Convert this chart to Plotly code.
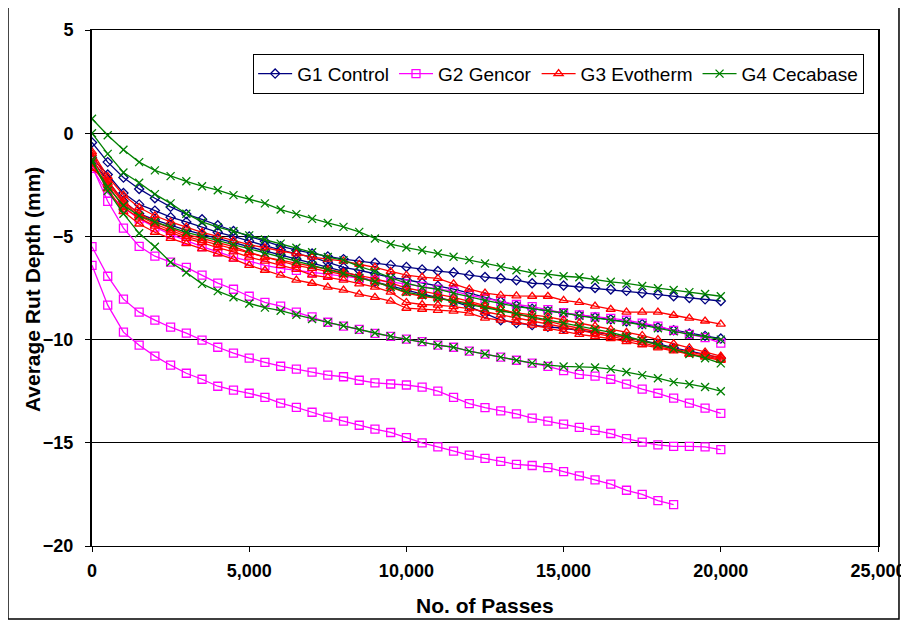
import plotly.graph_objects as go

# x values: number of passes (every 500)
passes = [0, 500, 1000, 1500, 2000, 2500, 3000, 3500, 4000, 4500,
          5000, 5500, 6000, 6500, 7000, 7500, 8000, 8500, 9000, 9500,
          10000, 10500, 11000, 11500, 12000, 12500, 13000, 13500, 14000, 14500,
          15000, 15500, 16000, 16500, 17000, 17500, 18000, 18500, 19000, 19500,
          20000]

# G1 Control
g1_a = [-0.45, -1.4, -2.15, -2.7, -3.15, -3.57, -3.92, -4.17, -4.46, -4.74,
        -5.0, -5.23, -5.47, -5.67, -5.83, -5.97, -6.1, -6.2, -6.28, -6.38,
        -6.48, -6.6, -6.68, -6.75, -6.88, -6.97, -7.03, -7.12, -7.27, -7.3,
        -7.38, -7.45, -7.5, -7.57, -7.64, -7.74, -7.82, -7.9, -7.98, -8.05,
        -8.13]
g1_b = [-1.2, -2.0, -2.9, -3.45, -3.75, -4.07, -4.3, -4.55, -4.8, -5.0,
        -5.23, -5.45, -5.65, -5.85, -6.0, -6.25, -6.5, -6.64, -6.8, -6.98,
        -7.1, -7.25, -7.4, -7.55, -7.75, -7.95, -8.15, -8.35, -8.5, -8.62,
        -8.72, -8.82, -8.92, -9.02, -9.12, -9.25, -9.4, -9.55, -9.7, -9.82,
        -9.95]
g1_c = [-1.3, -2.3, -3.3, -3.9, -4.2, -4.45, -4.7, -4.9, -5.1, -5.3,
        -5.5, -5.7, -5.9, -6.1, -6.3, -6.5, -6.7, -6.95, -7.2, -7.4,
        -7.6, -7.8, -7.95, -8.15, -8.4, -8.75, -9.06, -9.2, -9.3, -9.38,
        -9.45, -9.55, -9.65, -9.75, -9.9, -10.05, -10.2, -10.4, -10.55, -10.72,
        -10.9]

# G2 Gencor
g2_a = [-1.6, -3.3, -4.6, -5.48, -5.96, -6.25, -6.5, -6.88, -7.26, -7.56,
        -7.9, -8.2, -8.38, -8.67, -8.9, -9.16, -9.35, -9.5, -9.7, -9.84,
        -9.98, -10.1, -10.27, -10.37, -10.56, -10.7, -10.85, -11.0, -11.14, -11.3,
        -11.5, -11.68, -11.77, -11.92, -12.16, -12.4, -12.6, -12.84, -13.08, -13.32,
        -13.57]
g2_b = [-5.5, -6.93, -8.04, -8.67, -9.06, -9.4, -9.69, -10.03, -10.37, -10.66,
        -10.9, -11.1, -11.29, -11.43, -11.58, -11.72, -11.8, -11.97, -12.1, -12.15,
        -12.2, -12.3, -12.5, -12.8, -13.1, -13.3, -13.45, -13.6, -13.8, -13.95,
        -14.1, -14.25, -14.4, -14.55, -14.8, -14.97, -15.1, -15.17, -15.17, -15.2,
        -15.33]
g2_c = [-6.4, -8.33, -9.64, -10.27, -10.8, -11.24, -11.63, -11.92, -12.26, -12.45,
        -12.6, -12.8, -13.08, -13.28, -13.52, -13.76, -13.95, -14.15, -14.34, -14.5,
        -14.75, -15.0, -15.2, -15.4, -15.6, -15.75, -15.9, -16.05, -16.1, -16.2,
        -16.4, -16.6, -16.8, -17.0, -17.3, -17.5, -17.8, -18.0, None, None,
        None]
g2_d = [-1.7, -2.9, -3.6, -4.15, -4.55, -4.9, -5.2, -5.5, -5.75, -6.0,
        -6.2, -6.4, -6.55, -6.65, -6.75, -6.85, -6.95, -7.05, -7.12, -7.2,
        -7.3, -7.42, -7.55, -7.65, -7.85, -8.0, -8.15, -8.3, -8.4, -8.55,
        -8.7, -8.8, -8.9, -8.97, -9.06, -9.2, -9.35, -9.55, -9.75, -9.9,
        -10.17]

# G3 Evotherm
g3_a = [-0.9, -2.1, -3.0, -3.6, -4.0, -4.3, -4.55, -4.8, -5.0, -5.2,
        -5.4, -5.55, -5.7, -5.85, -6.0, -6.1, -6.2, -6.35, -6.5, -6.7,
        -6.88, -6.97, -7.03, -7.3, -7.55, -7.75, -7.85, -7.88, -7.9, -7.9,
        -8.1, -8.2, -8.38, -8.53, -8.67, -8.67, -8.67, -8.82, -8.96, -9.1,
        -9.25]
g3_b = [-1.0, -2.3, -3.3, -3.9, -4.3, -4.6, -4.9, -5.1, -5.3, -5.5,
        -5.77, -6.0, -6.15, -6.3, -6.45, -6.6, -6.75, -6.9, -7.05, -7.25,
        -7.5, -7.65, -7.8, -7.95, -8.15, -8.35, -8.55, -8.75, -8.95, -9.1,
        -9.3, -9.45, -9.6, -9.75, -9.9, -10.05, -10.25, -10.45, -10.6, -10.75,
        -10.85]
g3_c = [-1.2, -2.5, -3.6, -4.1, -4.5, -4.8, -5.1, -5.3, -5.55, -5.75,
        -6.0, -6.2, -6.4, -6.6, -6.88, -6.98, -7.12, -7.3, -7.46, -7.7,
        -8.2, -8.3, -8.33, -8.4, -8.5, -8.65, -8.8, -8.95, -9.1, -9.25,
        -9.4, -9.55, -9.7, -9.85, -10.0, -10.15, -10.35, -10.5, -10.7, -10.85,
        -11.0]
g3_d = [-1.5, -2.7, -3.8, -4.4, -4.8, -5.1, -5.35, -5.6, -5.85, -6.1,
        -6.4, -6.64, -6.88, -7.12, -7.27, -7.46, -7.6, -7.8, -7.95, -8.14,
        -8.48, -8.53, -8.58, -8.62, -8.72, -8.96, -9.06, -9.16, -9.3, -9.45,
        -9.6, -9.75, -9.85, -9.95, -10.1, -10.25, -10.4, -10.55, -10.7, -10.8,
        -10.95]
g3_e = [-1.7, -2.4, -3.4, -4.0, -4.4, -4.7, -5.0, -5.2, -5.4, -5.6,
        -5.8, -6.0, -6.2, -6.4, -6.55, -6.7, -6.85, -7.0, -7.2, -7.45,
        -7.75, -7.9, -8.0, -8.1, -8.25, -8.4, -8.55, -8.7, -8.8, -8.9,
        -9.05, -9.2, -9.35, -9.5, -9.65, -9.8, -10.0, -10.2, -10.4, -10.6,
        -10.8]

# G4 Cecabase
g4_a = [0.7, -0.1, -0.8, -1.4, -1.8, -2.08, -2.33, -2.57, -2.76, -3.0,
        -3.2, -3.4, -3.7, -3.92, -4.15, -4.35, -4.54, -4.78, -5.1, -5.38,
        -5.54, -5.67, -5.83, -5.99, -6.15, -6.31, -6.48, -6.64, -6.77, -6.83,
        -6.93, -6.98, -7.1, -7.2, -7.28, -7.4, -7.51, -7.6, -7.7, -7.79,
        -7.9]
g4_b = [0.0, -1.0, -1.9, -2.4, -2.95, -3.4, -3.9, -4.3, -4.55, -4.75,
        -4.95, -5.15, -5.35, -5.55, -5.77, -6.0, -6.15, -6.45, -6.7, -7.0,
        -7.27, -7.46, -7.56, -7.75, -7.93, -8.1, -8.25, -8.4, -8.5, -8.6,
        -8.7, -8.85, -8.95, -9.05, -9.15, -9.3, -9.45, -9.6, -9.75, -9.85,
        -10.0]
g4_c = [-1.3, -2.8, -3.9, -4.85, -5.5, -6.25, -6.75, -7.3, -7.65, -7.95,
        -8.25, -8.45, -8.6, -8.8, -9.0, -9.17, -9.33, -9.52, -9.68, -9.84,
        -9.98, -10.1, -10.27, -10.37, -10.56, -10.7, -10.85, -11.0, -11.14, -11.24,
        -11.3, -11.32, -11.35, -11.43, -11.57, -11.72, -11.87, -12.06, -12.16, -12.3,
        -12.5]
g4_d = [-1.4, -2.6, -3.5, -4.0, -4.3, -4.55, -4.8, -5.0, -5.2, -5.4,
        -5.6, -5.8, -6.0, -6.2, -6.4, -6.6, -6.8, -7.0, -7.2, -7.45,
        -7.7, -7.85, -8.0, -8.15, -8.3, -8.45, -8.6, -8.75, -8.9, -9.05,
        -9.2, -9.35, -9.5, -9.65, -9.85, -10.05, -10.25, -10.45, -10.7, -10.9,
        -11.15]

# group name -> (lines, colour, marker symbol, marker size)
groups = [
    ("G1 Control", [g1_a, g1_b, g1_c], "#000080", "diamond-open", 7),
    ("G2 Gencor", [g2_a, g2_b, g2_c, g2_d], "#FF00FF", "square-open", 8),
    ("G3 Evotherm", [g3_a, g3_b, g3_c, g3_d, g3_e], "#FF0000", "triangle-up-open", 8),
    ("G4 Cecabase", [g4_a, g4_b, g4_c, g4_d], "#008000", "x-thin-open", 8),
]

fig = go.Figure()
for name, lines, color, symbol, size in groups:
    for i, ys in enumerate(lines):
        fig.add_trace(go.Scatter(
            x=passes, y=ys, mode="lines+markers", name=name,
            legendgroup=name, showlegend=(i == 0),
            line=dict(color=color, width=1.3),
            marker=dict(symbol=symbol, size=size, color=color,
                        line=dict(color=color, width=1.3)),
        ))

font_name = "Liberation Sans, Arial, sans-serif"

# the page body has an 8px margin, so the figure is a bit smaller than the window
fig.update_layout(
    width=901, height=612,
    margin=dict(l=84, r=31, t=22, b=74),
    paper_bgcolor="white", plot_bgcolor="white",
    font=dict(family=font_name, color="black"),
    legend=dict(
        orientation="h", x=0.205, y=0.954, xanchor="left", yanchor="top",
        bordercolor="black", borderwidth=1, bgcolor="white",
        font=dict(size=19, family=font_name), itemwidth=34,
    ),
    xaxis=dict(
        range=[0, 25000], dtick=5000, tickformat=",d", automargin=False,
        showgrid=False, zeroline=False,
        showline=True, linecolor="black", linewidth=1, mirror=True,
        ticks="outside", ticklen=5, tickcolor="black",
        tickfont=dict(size=18, family=font_name, weight="bold"),
        ticklabelstandoff=3,
    ),
    yaxis=dict(
        range=[-20, 5], dtick=5, automargin=False,
        showgrid=True, gridcolor="black", gridwidth=1, zeroline=False,
        showline=True, linecolor="black", linewidth=2, mirror=True,
        ticks="outside", ticklen=5, tickcolor="black",
        tickfont=dict(size=18, family=font_name, weight="bold"),
        ticklabelstandoff=8,
    ),
    annotations=[
        dict(text="<b>No. of Passes</b>", xref="paper", yref="paper",
             x=0.5, y=-0.116, xanchor="center", yanchor="middle",
             showarrow=False, font=dict(size=21)),
        dict(text="<b>Average Rut Depth (mm)</b>", xref="paper", yref="paper",
             x=-0.0763, y=0.496, xanchor="center", yanchor="middle",
             textangle=-90, showarrow=False, font=dict(size=21)),
    ],
    shapes=[dict(type="rect", xref="paper", yref="paper",
                 x0=-0.1069, x1=1.0267, y0=-0.1415, y1=1.0484,
                 line=dict(color="black", width=1.5))],
)

fig.write_html("out.html")
